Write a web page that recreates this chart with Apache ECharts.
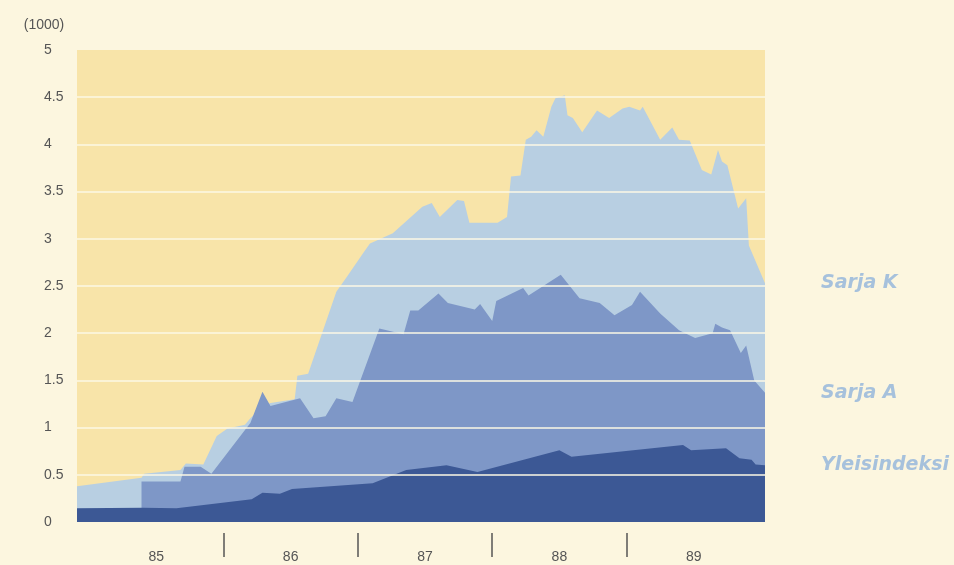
<!DOCTYPE html>
<html>
<head>
<meta charset="utf-8">
<script src="https://cdn.jsdelivr.net/npm/echarts@6/dist/echarts.min.js"></script>
<style>
html, body { margin: 0; padding: 0; background: #fcf6df; }
#main { width: 954px; height: 565px; }
</style>
</head>
<body>
<div id="main"></div>
<script>
// [year, index (1000)]
var sarjaK = [
	[1984.91, 0.38], [1985.39, 0.47], [1985.41, 0.51], [1985.68, 0.55], [1985.72, 0.62],
	[1985.85, 0.61], [1985.95, 0.91], [1986.03, 0.99], [1986.16, 1.03], [1986.20, 1.10],
	[1986.29, 1.22], [1986.35, 1.26], [1986.53, 1.30], [1986.55, 1.55], [1986.63, 1.57],
	[1986.77, 2.15], [1986.84, 2.44], [1986.92, 2.60], [1987.04, 2.85], [1987.09, 2.95],
	[1987.26, 3.06], [1987.48, 3.34], [1987.55, 3.38], [1987.61, 3.23], [1987.74, 3.41],
	[1987.79, 3.40], [1987.83, 3.17], [1988.04, 3.17], [1988.11, 3.23], [1988.14, 3.66],
	[1988.21, 3.67], [1988.25, 4.05], [1988.29, 4.08], [1988.33, 4.15], [1988.38, 4.08],
	[1988.44, 4.40], [1988.47, 4.49], [1988.54, 4.52], [1988.56, 4.31], [1988.60, 4.28],
	[1988.67, 4.13], [1988.78, 4.36], [1988.87, 4.28], [1988.97, 4.38], [1989.02, 4.40],
	[1989.10, 4.36], [1989.12, 4.40], [1989.25, 4.05], [1989.34, 4.18], [1989.39, 4.05],
	[1989.47, 4.04], [1989.56, 3.73], [1989.63, 3.68], [1989.68, 3.94], [1989.71, 3.82],
	[1989.75, 3.78], [1989.83, 3.32], [1989.89, 3.43], [1989.91, 2.93], [1990.03, 2.53]
];
var sarjaA = [
	[1985.39, 0.43], [1985.68, 0.43], [1985.71, 0.585], [1985.83, 0.585], [1985.91, 0.51],
	[1986.20, 1.05], [1986.29, 1.38], [1986.35, 1.23], [1986.57, 1.31], [1986.67, 1.10],
	[1986.76, 1.12], [1986.84, 1.31], [1986.96, 1.27], [1987.16, 2.05], [1987.34, 1.99],
	[1987.39, 2.24], [1987.45, 2.24], [1987.60, 2.42], [1987.67, 2.32], [1987.87, 2.25],
	[1987.91, 2.31], [1988.00, 2.13], [1988.03, 2.34], [1988.23, 2.48], [1988.27, 2.40],
	[1988.51, 2.62], [1988.65, 2.37], [1988.80, 2.32], [1988.91, 2.19], [1989.04, 2.30],
	[1989.10, 2.44], [1989.25, 2.21], [1989.39, 2.03], [1989.51, 1.95], [1989.64, 2.00],
	[1989.66, 2.10], [1989.71, 2.06], [1989.77, 2.03], [1989.85, 1.79], [1989.89, 1.87],
	[1989.95, 1.50], [1990.03, 1.37]
];
var yleisindeksi = [
	[1984.91, 0.145], [1985.40, 0.15], [1985.65, 0.145], [1986.21, 0.24], [1986.29, 0.31],
	[1986.42, 0.30], [1986.51, 0.35], [1987.11, 0.41], [1987.36, 0.55], [1987.66, 0.60],
	[1987.89, 0.53], [1988.50, 0.76], [1988.59, 0.69], [1989.42, 0.815], [1989.48, 0.76],
	[1989.74, 0.78], [1989.84, 0.675], [1989.93, 0.66], [1989.96, 0.61], [1990.03, 0.60]
];
var yearLabelPos = [1985.5, 1986.5, 1987.5, 1988.5, 1989.5];
var yearBreaks = [1986, 1987, 1988, 1989];

var dom = document.getElementById("main");
var myChart = echarts.init(dom);
var option = null;

function areaSeries(name, data, color) {
	return {
		name: name,
		type: 'line',
		data: data,
		showSymbol: false,
		lineStyle: { width: 0 },
		areaStyle: { color: color, opacity: 1 },
		endLabel: {
			show: true,
			formatter: '{a}',
			distance: 56,
			color: '#a6c1dc',
			fontFamily: 'DejaVu Sans',
			fontWeight: 'bold',
			fontStyle: 'italic',
			fontSize: 19
		}
	};
}

option = {
	animation: false,
	backgroundColor: '#fcf6df',
	textStyle: { fontFamily: 'Liberation Sans' },
	grid: {
		show: true,
		left: 77, right: 189, top: 50, bottom: 43,
		backgroundColor: '#f8e4a9',
		borderWidth: 0
	},
	xAxis: [{
		type: 'value',
		min: 1984.91,
		max: 1990.03,
		axisLine: { show: false },
		axisTick: { show: false },
		splitLine: { show: false },
		axisLabel: {
			customValues: yearLabelPos,
			formatter: function (v) { return String(Math.floor(v)).slice(2); },
			color: '#555',
			fontSize: 14,
			margin: 28
		}
	}, {
		type: 'value',
		position: 'bottom',
		offset: 11,
		min: 1984.91,
		max: 1990.03,
		axisLine: { show: false },
		axisLabel: { show: false },
		splitLine: { show: false },
		axisTick: {
			show: true,
			customValues: yearBreaks,
			length: 24,
			lineStyle: { color: '#555', width: 1.5 }
		}
	}],
	yAxis: {
		type: 'value',
		min: 0,
		max: 5,
		interval: 0.5,
		z: 5,
		name: '(1000)',
		nameLocation: 'end',
		nameGap: 18,
		nameTextStyle: { color: '#555', fontSize: 14, align: 'center', padding: [0, 66, 0, 0] },
		axisLine: { show: false },
		axisTick: { show: false },
		axisLabel: { color: '#555', fontSize: 14, align: 'left', margin: 33 },
		splitLine: {
			show: true,
			showMinLine: false,
			showMaxLine: false,
			lineStyle: { color: '#fdf8e6', width: 1.5 }
		}
	},
	series: [
		areaSeries('Sarja K', sarjaK, '#b8cfe2'),
		areaSeries('Sarja A', sarjaA, '#7e97c7'),
		areaSeries('Yleisindeksi', yleisindeksi, '#3c5895')
	]
};

if (option && typeof option === "object") {
	myChart.setOption(option, true);
}
</script>
</body>
</html>
